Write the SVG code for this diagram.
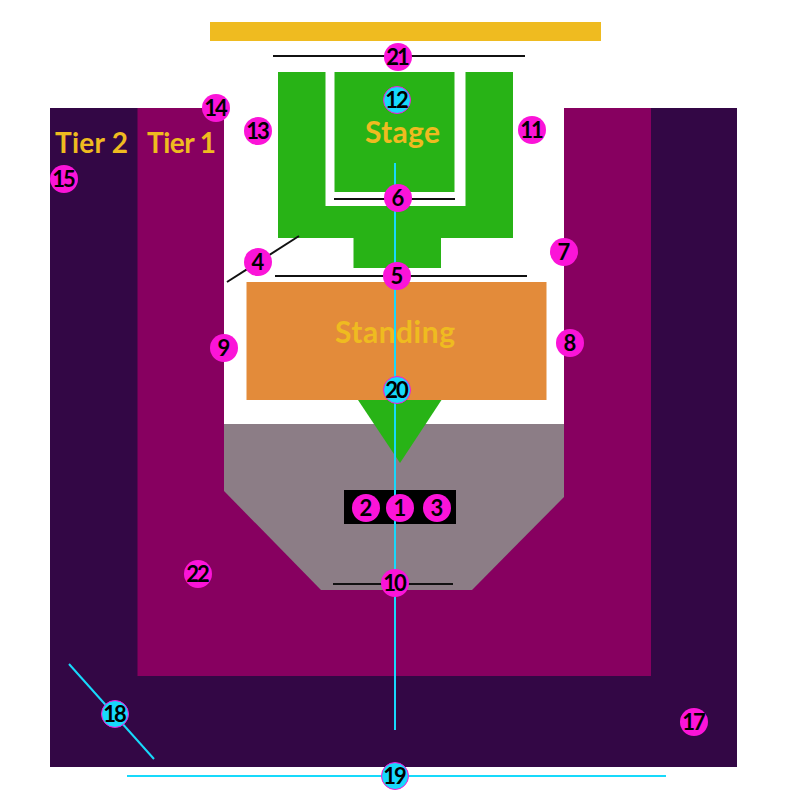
<svg xmlns="http://www.w3.org/2000/svg" width="800" height="800" viewBox="0 0 800 800">
<style>
.t{font-family:Lato,"Noto Sans",sans-serif;font-weight:700;fill:#efbb20}
.n circle{fill:#fb14d8}
.c circle{fill:#17d9fb;stroke:#fb14d8;stroke-width:1}
.n text,.c text{font-family:Lato,"Noto Sans",sans-serif;font-weight:700;font-size:22px;letter-spacing:-2px;fill:#000;text-anchor:middle;transform:translateX(-1px)}
.k{stroke:#111;stroke-width:2;fill:none}
.y{stroke:#17d9fb;stroke-width:2;fill:none}
</style>
<g id="shapes">
<rect x="50" y="108" width="687" height="659" fill="#330745"/>
<rect x="137.500" y="108" width="513.500" height="568" fill="#870060"/>
<rect x="224" y="108" width="340" height="316" fill="#fff"/>
<polygon points="224,424 564,424 564,497 472,590 321,590 224,491" fill="#8c7d86"/>
<rect x="210" y="22" width="391" height="19" fill="#efbb20"/>
<path d="M278,72H325.500V206H465.500V72H513V238H441V268H353.500V238H278Z" fill="#28b316"/>
<rect x="334.500" y="72" width="120" height="120" fill="#28b316"/>
<rect x="246.500" y="282" width="300" height="118" fill="#e38b3a"/>
<polygon points="358,400 441.500,400 400,463" fill="#28b316"/>
<rect x="344" y="490" width="112" height="34" fill="#000"/>
<text class="t" x="402.500" y="143" font-size="30" text-anchor="middle" textLength="75" lengthAdjust="spacing">Stage</text>
<text class="t" x="395" y="343" font-size="30" text-anchor="middle" textLength="120" lengthAdjust="spacing">Standing</text>
<text class="t" x="91.500" y="153" font-size="28" text-anchor="middle" textLength="73" lengthAdjust="spacing">Tier 2</text>
<text class="t" x="181.500" y="153" font-size="28" text-anchor="middle" textLength="69" lengthAdjust="spacing">Tier 1</text>
</g>
<g id="connectors">
<line class="k" x1="273" y1="56" x2="525" y2="56"/>
<line class="k" x1="334" y1="199" x2="455" y2="199"/>
<line class="k" x1="275" y1="276" x2="527" y2="276"/>
<line class="k" x1="333" y1="584" x2="453" y2="584"/>
<line class="k" x1="227" y1="282" x2="299" y2="236"/>
<line class="y" x1="395" y1="163" x2="395" y2="730"/>
<line class="y" x1="69" y1="664" x2="154" y2="759"/>
<line class="y" x1="127" y1="776" x2="666" y2="776"/>
</g>
<g id="n1" class="n"><circle cx="400" cy="508" r="14"/><text x="400" y="516">1</text></g>
<g id="n2" class="n"><circle cx="366" cy="508" r="14"/><text x="366" y="516">2</text></g>
<g id="n3" class="n"><circle cx="437" cy="508" r="14"/><text x="437" y="516">3</text></g>
<g id="n4" class="n"><circle cx="258" cy="262" r="14"/><text x="258" y="270">4</text></g>
<g id="n5" class="n"><circle cx="397" cy="276" r="14"/><text x="397" y="284">5</text></g>
<g id="n6" class="n"><circle cx="398" cy="198" r="14"/><text x="398" y="206">6</text></g>
<g id="n7" class="n"><circle cx="564" cy="252" r="14"/><text x="564" y="260">7</text></g>
<g id="n8" class="n"><circle cx="570" cy="343" r="14"/><text x="570" y="351">8</text></g>
<g id="n9" class="n"><circle cx="224" cy="348" r="14"/><text x="224" y="356">9</text></g>
<g id="n10" class="n"><circle cx="395" cy="583" r="14"/><text x="395" y="591">10</text></g>
<g id="n11" class="n"><circle cx="532" cy="130" r="14"/><text x="532" y="138">11</text></g>
<g id="n12" class="c"><circle cx="397" cy="100" r="13.500"/><text x="397" y="108">12</text></g>
<g id="n13" class="n"><circle cx="258" cy="131" r="14"/><text x="258" y="139">13</text></g>
<g id="n14" class="n"><circle cx="216" cy="108" r="14"/><text x="216" y="116">14</text></g>
<g id="n15" class="n"><circle cx="64" cy="179" r="14"/><text x="64" y="187">15</text></g>
<g id="n17" class="n"><circle cx="694" cy="722" r="14"/><text x="694" y="730">17</text></g>
<g id="n18" class="c"><circle cx="115" cy="714" r="13.500"/><text x="115" y="722">18</text></g>
<g id="n19" class="c"><circle cx="395" cy="776" r="13.500"/><text x="395" y="784">19</text></g>
<g id="n20" class="c"><circle cx="397" cy="390" r="13.500"/><text x="397" y="398">20</text></g>
<g id="n21" class="n"><circle cx="398" cy="57" r="14"/><text x="398" y="65">21</text></g>
<g id="n22" class="n"><circle cx="198" cy="574" r="14"/><text x="198" y="582">22</text></g>
</svg>
